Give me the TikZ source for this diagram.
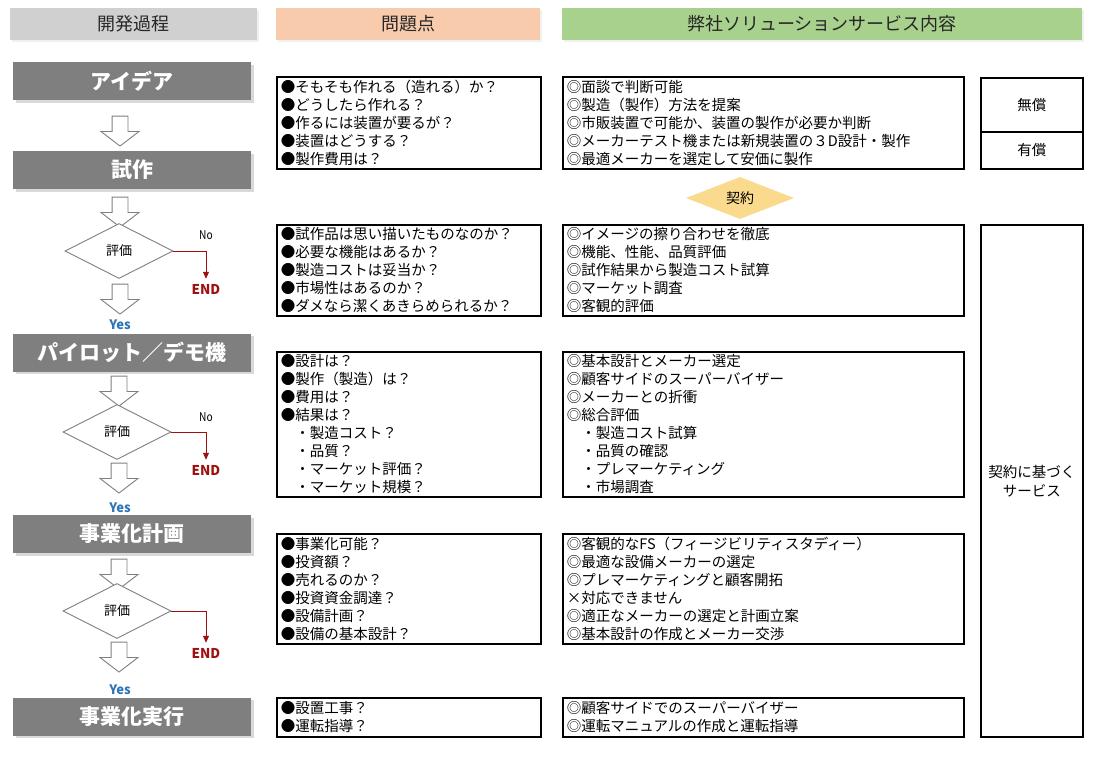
\documentclass[tikz,border=0pt]{standalone}
\usepackage{fontspec}
\setmainfont{Noto Sans CJK JP}
\usetikzlibrary{positioning,shapes.geometric,shapes.arrows,shadows,arrows.meta}

\definecolor{hdgray}{RGB}{208,208,208}
\definecolor{hdpeach}{RGB}{248,203,173}
\definecolor{hdgreen}{RGB}{169,209,142}
\definecolor{stagegray}{RGB}{127,127,127}
\definecolor{endred}{RGB}{160,16,16}
\definecolor{yesblue}{RGB}{46,117,182}
\definecolor{keiyakuyellow}{RGB}{250,218,140}

\begin{document}
\begin{tikzpicture}[x=1pt,y=-1pt,
    header/.style={minimum height=32pt,inner sep=0pt,font=\fontsize{18}{20}\selectfont,text=black!85,
      drop shadow={shadow xshift=1.5pt,shadow yshift=-1.5pt,opacity=0.12}},
    stage/.style={fill=stagegray,minimum width=238pt,minimum height=38pt,inner sep=0pt,text=white,
      font=\fontsize{21}{24}\selectfont\bfseries,drop shadow={shadow xshift=2.5pt,shadow yshift=-2.5pt,opacity=0.3}},
    hollow/.style={single arrow,draw=stagegray,fill=white,line width=0.9pt,rotate=-90,inner xsep=0pt,inner ysep=7.5pt,
      minimum height=30pt,single arrow head extend=11pt,single arrow tip angle=105},
    judge/.style={diamond,draw=stagegray,fill=white,line width=0.9pt,minimum width=108pt,minimum height=55pt,inner sep=0pt,
      font=\fontsize{13}{15}\selectfont},
    txtbox/.style={draw,line width=1.8pt,fill=white,anchor=north west,align=left,inner xsep=4pt,inner ysep=1pt,
      font=\fontsize{14.5}{18}\selectfont,drop shadow={shadow xshift=1.5pt,shadow yshift=-1.5pt,opacity=0.12}},
    prob/.style={txtbox,text width=256pt,minimum width=264pt},
    sol/.style={txtbox,text width=393pt,minimum width=401pt},
    rbox/.style={draw,line width=1.8pt,fill=white,anchor=north west,minimum width=102pt,inner sep=0pt,
      font=\fontsize{14.5}{19}\selectfont,align=center},
    noline/.style={draw=endred,line width=1pt,-{Triangle[length=7pt,width=6pt]},shorten >=5pt},
    endlbl/.style={text=endred,font=\fontsize{13.5}{14}\selectfont\bfseries,inner sep=0pt},
    nolbl/.style={font=\fontsize{12}{13}\selectfont,inner sep=0pt,xscale=0.85},
    yeslbl/.style={text=yesblue,font=\fontsize{13}{14}\selectfont\bfseries,inner sep=0pt}]
  \useasboundingbox (0,0) rectangle (1096,756);

  \node[header,fill=hdgray,minimum width=247pt] (hproc) at (133.5,24) {開発過程};
  \node[header,fill=hdpeach,minimum width=264pt] (hprob) at (408,24) {問題点};
  \node[header,fill=hdgreen,minimum width=520pt] (hsol) at (822,24) {弊社ソリューションサービス内容};

  \node[stage] (idea) at (132,81) {アイデア};
  \node[stage] (proto) at (132,170) {試作};
  \node[stage] (pilot) at (132,352.5) {パイロット／デモ機};
  \node[stage] (plan) at (132,534) {事業化計画};
  \node[stage] (launch) at (132,716.5) {事業化実行};

  \node[hollow] (down1) at (120,128) {};
  \node[hollow] (down2) at (120,209) {};
  \node[judge] (eval1) at (119,251) {評価};
  \node[hollow] (down3) at (120,296) {};
  \node[yeslbl] (yes1) at (120,325) {Yes};
  \node[hollow] (down4) at (119,388) {};
  \node[judge] (eval2) at (117,432) {評価};
  \node[hollow] (down5) at (119,475) {};
  \node[yeslbl] (yes2) at (120,508) {Yes};
  \node[hollow] (down6) at (119,571) {};
  \node[judge] (eval3) at (117,611) {評価};
  \node[hollow] (down7) at (119,654) {};
  \node[yeslbl] (yes3) at (120,690) {Yes};

  \node[endlbl] (end1) at (206,289) {END};
  \node[endlbl] (end2) at (206,470) {END};
  \node[endlbl] (end3) at (206,653) {END};
  \draw[noline] (eval1.east) -| node[nolbl,pos=0.5,above=11pt] (no1) {No} (end1.north);
  \draw[noline] (eval2.east) -| node[nolbl,pos=0.5,above=10pt] (no2) {No} (end2.north);
  \draw[noline] (eval3.east) -| (end3.north);

  \node[prob,minimum height=92pt] (prob1) at (276,76)
    {●そもそも作れる（造れる）か？\\●どうしたら作れる？\\●作るには装置が要るが？\\●装置はどうする？\\●製作費用は？};
  \node[prob,minimum height=91pt] (prob2) at (276,224)
    {●試作品は思い描いたものなのか？\\●必要な機能はあるか？\\●製造コストは妥当か？\\●市場性はあるのか？\\●ダメなら潔くあきらめられるか？};
  \node[prob,minimum height=145pt] (prob3) at (276,351)
    {●設計は？\\●製作（製造）は？\\●費用は？\\●結果は？\\\hspace*{1em}・製造コスト？\\\hspace*{1em}・品質？\\\hspace*{1em}・マーケット評価？\\\hspace*{1em}・マーケット規模？};
  \node[prob,minimum height=110pt] (prob4) at (276,533)
    {●事業化可能？\\●投資額？\\●売れるのか？\\●投資資金調達？\\●設備計画？\\●設備の基本設計？};
  \node[prob,minimum height=39pt] (prob5) at (276,697)
    {●設置工事？\\●運転指導？};

  \node[sol,minimum height=92pt] (sol1) at (562,76)
    {◎面談で判断可能\\◎製造（製作）方法を提案\\◎市販装置で可能か、装置の製作が必要か判断\\◎メーカーテスト機または新規装置の３D設計・製作\\◎最適メーカーを選定して安価に製作};
  \node[sol,minimum height=91pt] (sol2) at (562,224)
    {◎イメージの擦り合わせを徹底\\◎機能、性能、品質評価\\◎試作結果から製造コスト試算\\◎マーケット調査\\◎客観的評価};
  \node[sol,minimum height=145pt] (sol3) at (562,351)
    {◎基本設計とメーカー選定\\◎顧客サイドのスーパーバイザー\\◎メーカーとの折衝\\◎総合評価\\\hspace*{1em}・製造コスト試算\\\hspace*{1em}・品質の確認\\\hspace*{1em}・プレマーケティング\\\hspace*{1em}・市場調査};
  \node[sol,minimum height=110pt] (sol4) at (562,533)
    {◎客観的なFS（フィージビリティスタディー）\\◎最適な設備メーカーの選定\\◎プレマーケティングと顧客開拓\\×対応できません\\◎適正なメーカーの選定と計画立案\\◎基本設計の作成とメーカー交渉};
  \node[sol,minimum height=39pt] (sol5) at (562,697)
    {◎顧客サイドでのスーパーバイザー\\◎運転マニュアルの作成と運転指導};

  \node[diamond,fill=keiyakuyellow,minimum width=108pt,minimum height=42pt,inner sep=0pt,
    font=\fontsize{14}{15}\selectfont] (keiyaku) at (740,198) {契約};

  \node[rbox,minimum height=54pt] (free) at (980,77) {無償};
  \node[rbox,minimum height=37pt] (paid) at (980,131) {有償};
  \node[rbox,minimum height=512pt] (svc) at (980,224) {契約に基づく\\サービス};
\end{tikzpicture}
\end{document}
